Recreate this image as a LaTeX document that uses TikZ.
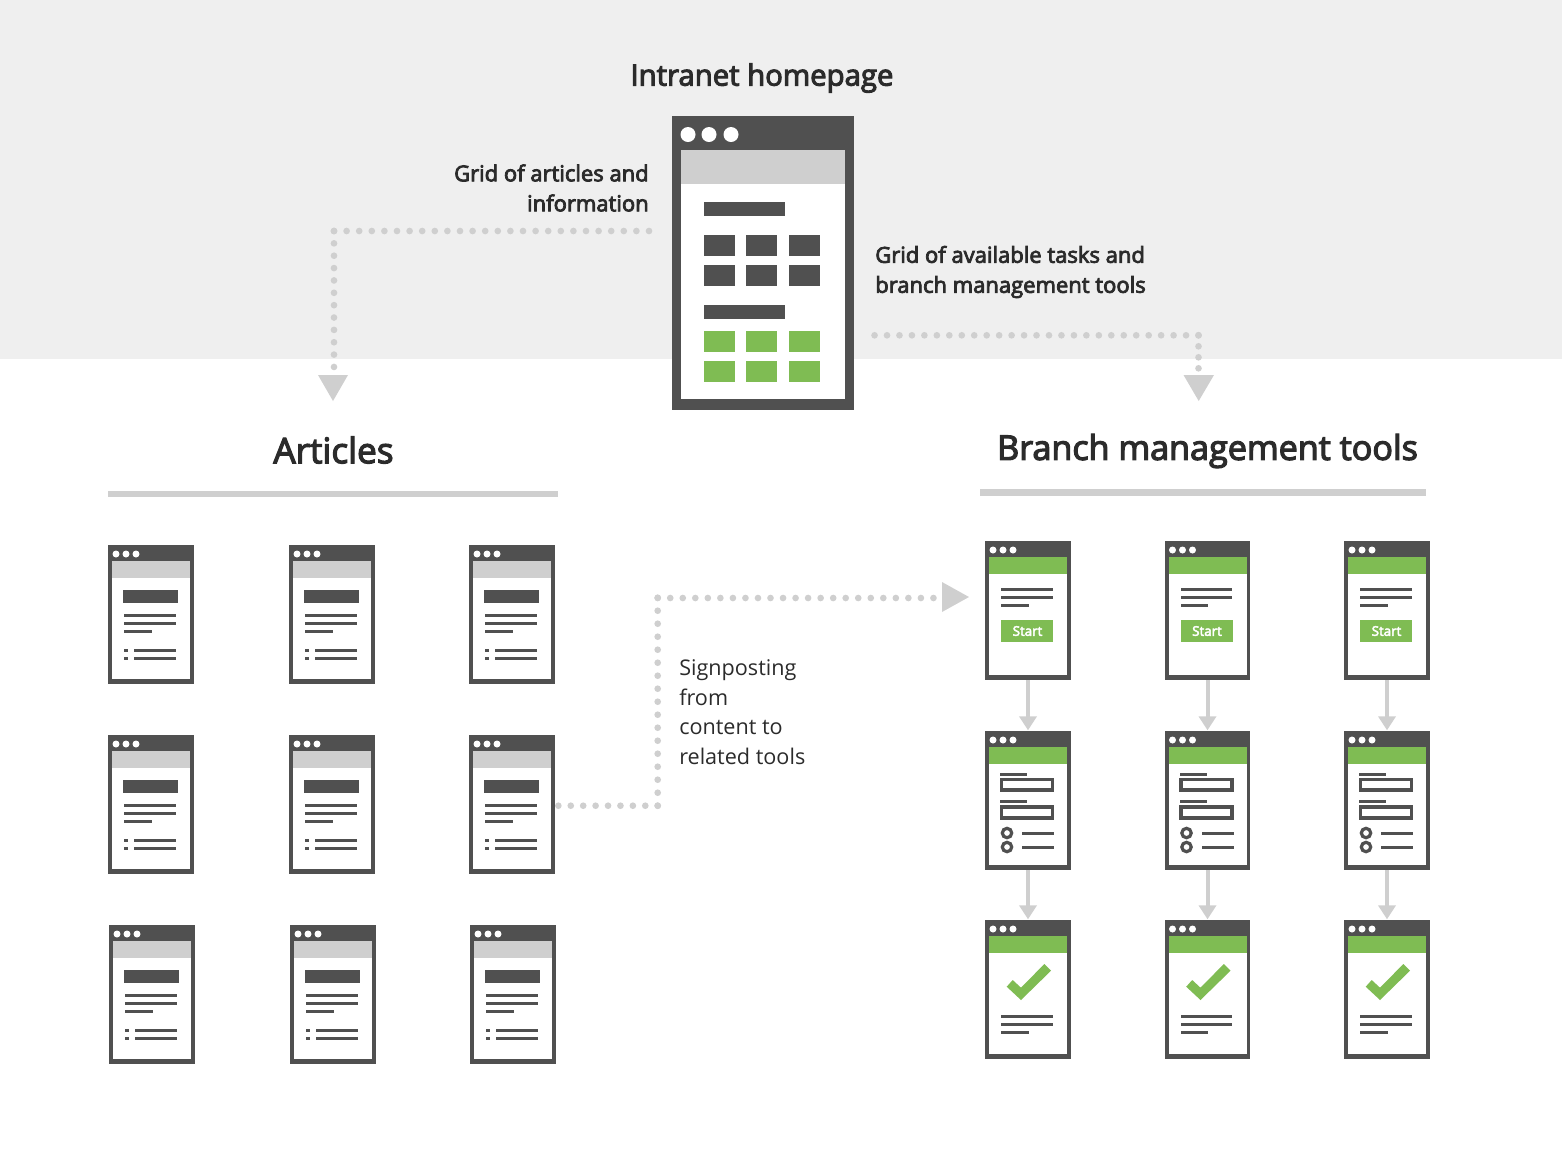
\documentclass[tikz,border=0pt]{standalone}
\usepackage{fontspec}
\setmainfont{Open Sans}
\usetikzlibrary{arrows.meta}
\definecolor{dk}{HTML}{505050}
\definecolor{gr}{HTML}{CFCFCF}
\definecolor{gn}{HTML}{7FBC53}
\definecolor{bgc}{HTML}{EFEFEF}
\definecolor{tx}{HTML}{2B2B2B}
\newcommand{\heavyon}[1]{\special{pdf:code 2 Tr #1 w}}
\newcommand{\heavyoff}{\special{pdf:code 0 Tr 0 w}}
\tikzset{
  lbl/.style={inner sep=0pt,text=tx,font=\fontsize{16.5}{22.5}\selectfont},
  ttl/.style={inner sep=0pt,text=tx,font=\fontsize{22}{26}\selectfont},
  bigttl/.style={inner sep=0pt,text=tx,font=\fontsize{25.6}{30}\selectfont},
  dots/.style={draw=gr,line width=5pt,line cap=round,dash pattern=on 0pt off #1pt,shorten >=-0.4pt},
  flow/.style={draw=gr,line width=3pt,-{Triangle[width=12.75pt,length=10.5pt]},shorten >=0.5pt},
  rule/.style={fill=gr,draw=none},
  head/.style={fill=gr,draw=none},
  frame/.pic={
    \fill[dk] (0,0) rectangle (85.5,139);
    \fill[white] (4,16) rectangle (82,134);
    \fill[#1] (4,16) rectangle (82,33);
    \foreach \cx in {8,18,28}{\fill[white] (\cx,9) circle (3.5);}
    \coordinate (-top) at (43,0);
    \coordinate (-bot) at (43,139);
  },
  frame/.default=gr,
  textlines/.pic={
    \fill[dk] (0,0) rectangle (51.5,3);
    \fill[dk] (0,8) rectangle (51.5,11);
    \fill[dk] (0,16) rectangle (27.5,19);
  },
  artpage/.pic={
    \pic (-f) at (0,0) {frame=gr};
    \fill[dk] (15,45) rectangle (69.5,58);
    \pic at (16,69) {textlines};
    \foreach \yy in {104,112}{
      \fill[dk] (16,\yy) rectangle (20,\yy+3);
      \fill[dk] (26,\yy) rectangle (68,\yy+3);
    }
    \coordinate (-top) at (43,0);
    \coordinate (-right) at (89.3,70.7);
  },
  startpage/.pic={
    \pic (-f) at (0,0) {frame=gn};
    \pic at (16,47) {textlines};
    \fill[gn] (16,79) rectangle (68,101);
    \node[inner sep=0pt,text=white,font=\fontsize{10}{12}\selectfont] (-start) at (42.5,90) {\heavyon{0.35}Start\heavyoff};
    \coordinate (-top) at (43,0);
    \coordinate (-bot) at (43,139);
  },
  formpage/.pic={
    \pic (-f) at (0,0) {frame=gn};
    \fill[dk] (15,42) rectangle (42,45);
    \draw[draw=dk,line width=2.6pt,fill=white] (16.5,48.5) rectangle (67.5,59);
    \fill[dk] (15,69) rectangle (42,72);
    \draw[draw=dk,line width=2.6pt,fill=white] (16.5,76) rectangle (67.5,87);
    \foreach \yy in {102,116}{
      \draw[draw=dk,line width=2.4pt] (22,\yy) circle (4.7);
      \fill[dk] (37,\yy-1.5) rectangle (69,\yy+1.5);
    }
    \coordinate (-top) at (43,0);
    \coordinate (-bot) at (43,139);
  },
  donepage/.pic={
    \pic (-f) at (0,0) {frame=gn};
    \fill[gn] (21.7,66.7) -- (27.7,60) -- (36,67.7) -- (59.3,44) -- (66,50.7) -- (36,80) -- cycle;
    \pic at (16,95) {textlines};
    \coordinate (-top) at (43,0);
  },
}
\begin{document}
\begin{tikzpicture}[x=0.75pt,y=-0.75pt]
\useasboundingbox (0,0) rectangle (1562,1172);
\fill[bgc] (0,0) rectangle (1562,358.5);

% homepage
\fill[dk] (672,116) rectangle (853.5,410);
\fill[white] (681,150) rectangle (845,399);
\fill[gr] (681,150) rectangle (845,184);
\foreach \cx in {688,709,731}{\fill[white] (\cx,134.5) circle (7.5);}
\fill[dk] (704,202) rectangle (785,216);
\fill[dk] (704,305) rectangle (785,319);
\foreach \cx in {704,746,789}{
  \fill[dk] (\cx,235) rectangle (\cx+30.5,255.5);
  \fill[dk] (\cx,265) rectangle (\cx+30.5,286);
  \fill[gn] (\cx,331) rectangle (\cx+30.5,351.5);
  \fill[gn] (\cx,361) rectangle (\cx+30.5,382);
}
\coordinate (homeL) at (649.3,231);
\coordinate (homeR) at (874.3,335.3);

% titles and labels
\node[ttl] (thome) at (762,78) {\heavyon{0.75}Intranet homepage\heavyoff};
\node[lbl,anchor=east,align=right] (lgrid) at (649,188) {\heavyon{0.6}Grid of articles and\\information\heavyoff};
\node[lbl,anchor=west,align=left] (rgrid) at (875,272) {\heavyon{0.6}Grid of available tasks and\\branch management tools\heavyoff};
\node[bigttl,font=\fontsize{26.4}{30}\selectfont] (tart) at (333.5,450) {\heavyon{0.9}Articles\heavyoff};
\node[bigttl] (ttools) at (1207.5,451) {\heavyon{0.9}Branch management tools\heavyoff};
\node[inner sep=0pt,text=tx,font=\fontsize{16.2}{22.2}\selectfont,anchor=west,align=left] (lsign) at (679,712) {Signposting\\from\\content to\\related tools};
\path[rule] (108,490.5) rectangle (558,497);
\path[rule] (980,489) rectangle (1426,495.5);

% article pages
\pic (a11) at (108,545) {artpage};
\pic (a12) at (289,545) {artpage};
\pic (a13) at (469,545) {artpage};
\pic (a21) at (108,735) {artpage};
\pic (a22) at (289,735) {artpage};
\pic (a23) at (469,735) {artpage};
\pic (a31) at (109,925) {artpage};
\pic (a32) at (290,925) {artpage};
\pic (a33) at (470,925) {artpage};

% tool pages
\pic (s1) at (985,541) {startpage};
\pic (s2) at (1164.5,541) {startpage};
\pic (s3) at (1344,541) {startpage};
\pic (m1) at (985,731) {formpage};
\pic (m2) at (1164.5,731) {formpage};
\pic (m3) at (1344,731) {formpage};
\pic (d1) at (985,920) {donepage};
\pic (d2) at (1164.5,920) {donepage};
\pic (d3) at (1344,920) {donepage};

\foreach \n in {1,2,3}{
  \draw[flow] (s\n-bot) -- (m\n-top);
  \draw[flow] (m\n-bot) -- (d\n-top);
}

% dotted connectors
\coordinate (artIn) at (334,367);
\coordinate (toolIn) at (1198.5,368);
\coordinate (sEnd) at (933.3,598);
\coordinate (cornerL) at (334,231);
\coordinate (cornerR) at (1198.5,335.3);
\coordinate (cornerA) at (657.7,805.7);
\coordinate (cornerB) at (657.7,598);
\draw[dots=9.45] (cornerL) -- (homeL);
\draw[dots=9.27] (cornerL) -- (artIn);
\draw[dots=9.345] (cornerR) -- (homeR);
\draw[dots=8.25] (cornerR) -- (toolIn);
\draw[dots=9.315] (cornerA) -- (a23-right);
\draw[dots=9.75] (cornerA) -- (cornerB);
\draw[dots=9.4] (cornerB) -- (sEnd);
\path[head] (318,375) -- (348,375) -- (333,401) -- cycle;
\path[head] (1183.5,375) -- (1214,375) -- (1198.7,401) -- cycle;
\path[head] (942,582) -- (942,612) -- (969,597) -- cycle;
\end{tikzpicture}
\end{document}
